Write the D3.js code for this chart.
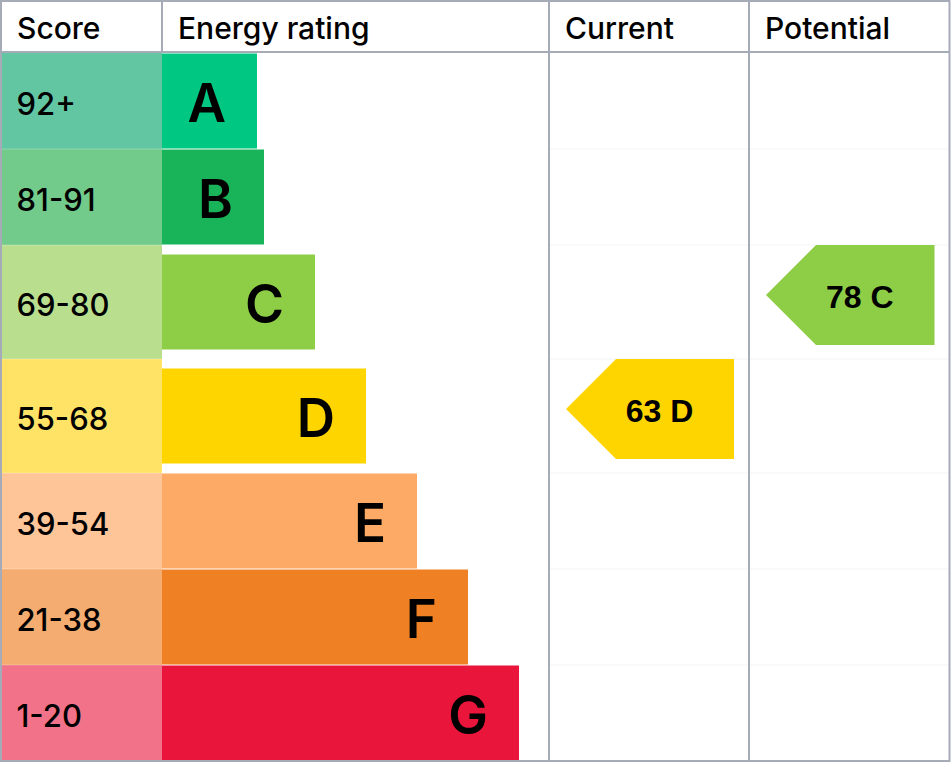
<!DOCTYPE html>
<html>
<head>
<meta charset="utf-8">
<script src="https://cdn.jsdelivr.net/npm/d3@7"></script>
<style>
  html, body { margin: 0; padding: 0; background: #fff; }
  svg { display: block; }
</style>
</head>
<body>
<svg id="chart" width="952" height="764"></svg>
<script>
// bands, best to worst
var bands = ["A", "B", "C", "D", "E", "F", "G"];
var scoreLabels = ["92+", "81-91", "69-80", "55-68", "39-54", "21-38", "1-20"];
var scoreMin = [92, 81, 69, 55, 39, 21, 1];
var bandLength = [95, 102, 153, 204, 255, 306, 357];
var bandColors = ["#00c781", "#19b459", "#8dce46", "#ffd500", "#fcaa65", "#ef8023", "#e9153b"];
var scoreColors = ["#63c6a3", "#72ca8b", "#b9df8e", "#ffe366", "#fec599", "#f4ac70", "#f27389"];
var headers = ["Score", "Energy rating", "Current", "Potential"];
var ratingNames = ["Current", "Potential"];
var ratingValues = [63, 78];

var svg = d3.select("#chart");
var gridColor = "#a5abb7";
var font = "Inter, 'Noto Sans', sans-serif";

var colX = [1, 162, 549, 749, 949.5];
var headerH = 52;
var arrowH = 100;

function bandOf(score) {
    for (var i = 0; i < scoreMin.length; i++) {
        if (score >= scoreMin[i]) return i;
    }
    return scoreMin.length - 1;
}

var arrowBands = ratingValues.map(bandOf);

// row heights: rows holding an arrow are taller
var rows = [];
var y0 = headerH + 1;
bands.forEach(function (b, i) {
    var h = arrowBands.indexOf(i) >= 0 ? 114 : 96;
    rows.push({band: b, i: i, y: y0, h: h});
    y0 += h;
});
var bottom = y0;

var x = d3.scaleLinear().domain([0, d3.max(bandLength)]).range([colX[1], colX[1] + d3.max(bandLength)]);

// score cells
svg.append("g").selectAll("rect")
    .data(rows)
    .enter().append("rect")
    .attr("x", colX[0] + 1)
    .attr("y", function (d) { return d.y; })
    .attr("width", colX[1] - colX[0] - 1)
    .attr("height", function (d) { return d.h; })
    .attr("fill", function (d) { return scoreColors[d.i]; });

// faint row separators
svg.append("g").selectAll("line")
    .data(rows.slice(1))
    .enter().append("line")
    .attr("x1", colX[0]).attr("x2", colX[4])
    .attr("y1", function (d) { return d.y; })
    .attr("y2", function (d) { return d.y; })
    .attr("stroke", "#ffffff")
    .attr("stroke-opacity", 0.25)
    .attr("stroke-width", 1);

svg.append("g").selectAll("line")
    .data(rows.slice(1))
    .enter().append("line")
    .attr("x1", colX[2]).attr("x2", colX[4])
    .attr("y1", function (d) { return d.y; })
    .attr("y2", function (d) { return d.y; })
    .attr("stroke", "#f3f4f6")
    .attr("stroke-width", 1);

// rating bars
var barH = 95;
svg.append("g").selectAll("rect")
    .data(rows)
    .enter().append("rect")
    .attr("x", x(0))
    .attr("y", function (d) { return d.y + (d.h - barH) / 2; })
    .attr("width", function (d) { return x(bandLength[d.i]) - x(0); })
    .attr("height", barH)
    .attr("fill", function (d) { return bandColors[d.i]; });

// score labels
svg.append("g").selectAll("text")
    .data(rows)
    .enter().append("text")
    .attr("x", 16.5)
    .attr("y", function (d) { return d.y + d.h / 2 + 13.5; })
    .attr("font-family", font)
    .attr("font-weight", 500)
    .attr("font-size", 31)
    .attr("fill", "#000")
    .text(function (d) { return scoreLabels[d.i]; });

// band letters
svg.append("g").selectAll("text")
    .data(rows)
    .enter().append("text")
    .attr("x", function (d) { return x(bandLength[d.i]) - 31; })
    .attr("y", function (d) { return d.y + d.h / 2 + 20.5; })
    .attr("text-anchor", "end")
    .attr("font-family", font)
    .attr("font-weight", 600)
    .attr("font-size", 53)
    .attr("fill", "#000")
    .text(function (d) { return d.band; });

// arrows for current / potential
ratingValues.forEach(function (v, k) {
    var row = rows[arrowBands[k]];
    var left = colX[2 + k] + 17;
    var right = colX[3 + k] - 15;
    var top = row.y;
    var mid = top + arrowH / 2;
    var g = svg.append("g");
    g.append("path")
        .attr("d", "M" + left + "," + mid +
            "L" + (left + arrowH / 2) + "," + top +
            "L" + right + "," + top +
            "L" + right + "," + (top + arrowH) +
            "L" + (left + arrowH / 2) + "," + (top + arrowH) + "Z")
        .attr("fill", bandColors[row.i]);
    g.append("text")
        .attr("x", (left + right) / 2 + 9.5)
        .attr("y", mid + 12.5)
        .attr("text-anchor", "middle")
        .attr("font-family", "'Liberation Sans', Arial, sans-serif")
        .attr("font-weight", "bold")
        .attr("font-size", 32)
        .attr("fill", "#000")
        .text(v + " " + row.band);
});

// headers
svg.append("g").selectAll("text")
    .data(headers)
    .enter().append("text")
    .attr("x", function (d, i) { return colX[i] + 16; })
    .attr("y", 39)
    .attr("font-family", font)
    .attr("font-weight", 500)
    .attr("font-size", 30)
    .attr("fill", "#000")
    .text(function (d) { return d; });

// grid lines
var grid = svg.append("g")
    .attr("stroke", gridColor)
    .attr("stroke-width", 2)
    .attr("fill", "none");
grid.append("rect")
    .attr("x", colX[0]).attr("y", 1)
    .attr("width", colX[4] - colX[0])
    .attr("height", bottom - 1);
grid.append("line")
    .attr("x1", colX[0]).attr("x2", colX[4])
    .attr("y1", headerH).attr("y2", headerH);
grid.append("line")
    .attr("x1", colX[1]).attr("x2", colX[1])
    .attr("y1", 1).attr("y2", headerH);
grid.selectAll("line.col")
    .data([colX[2], colX[3]])
    .enter().append("line")
    .attr("class", "col")
    .attr("x1", function (d) { return d; })
    .attr("x2", function (d) { return d; })
    .attr("y1", 1).attr("y2", bottom);
</script>
</body>
</html>
